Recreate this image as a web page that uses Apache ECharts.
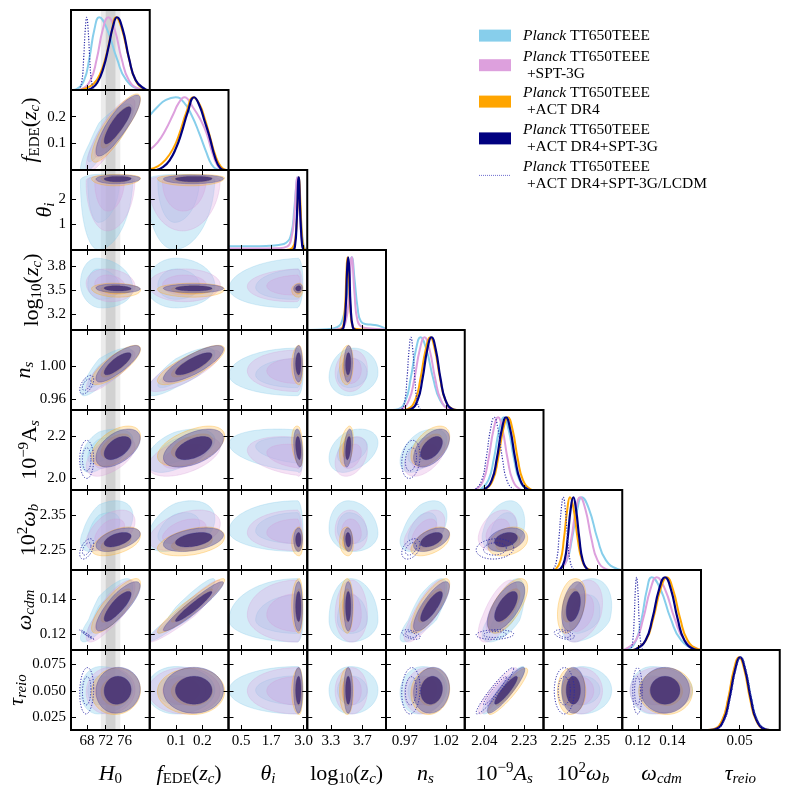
<!DOCTYPE html>
<html><head><meta charset="utf-8">
<script src="https://cdn.jsdelivr.net/npm/echarts@6/dist/echarts.min.js"></script>
<style>html,body{margin:0;padding:0;background:#fff}#c{width:789px;height:789px}</style>
</head><body><div id="c"></div>
<script>
// ---------------- DATA ----------------
const PARAM_NAMES = ['H0','fEDE','theta_i','log10_zc','n_s','As','omega_b','omega_cdm','tau_reio'];
const AXIS_MIN = [64.6, 0, 0, 3.0, 0.947, 1.946, 2.19, 0.111, 0.013];
const AXIS_MAX = [81.4, 0.30, 3.1416, 4.0, 1.043, 2.322, 2.425, 0.1565, 0.0885];
const COL_TICKS = [[68,72,76],[0.1,0.2],[0.5,1.7,3.0],[3.3,3.7],[0.97,1.02],[2.04,2.23],[2.25,2.35],[0.12,0.14],[0.05]];
const COL_DEC = [0,1,1,1,2,2,2,2,2];
const ROW_TICKS = [[],[0.1,0.2],[1,2],[3.2,3.5,3.8],[0.96,1.00],[2.0,2.2],[2.25,2.35],[0.12,0.14],[0.025,0.050,0.075]];
const ROW_DEC = [0,1,0,1,2,1,2,2,3];
const SH0ES = [73.04, 1.04];   // mean, sigma of the grey H0 band
const LEGEND_MAIN = ['Planck','Planck','Planck','Planck','Planck'];
const LEGEND_TAIL = ['TT650TEEE','TT650TEEE','TT650TEEE','TT650TEEE','TT650TEEE'];
const LEGEND_SUFFIX = ['', '+SPT-3G', '+ACT DR4', '+ACT DR4+SPT-3G', '+ACT DR4+SPT-3G/LCDM'];

// 1D marginal posteriors: [x, relative density]
const CURVE_P = [
 [[65.0,0],[65.8,0.011],[67.4,0.135],[68.5,0.43],[69.6,0.835],[70.6,1],[72.3,0.835],[74.4,0.43],[76.4,0.135],[79.3,0.011],[80.5,0]],
 [[0,0.75],[0.03,0.87],[0.06,0.96],[0.099,1],[0.13,0.93],[0.16,0.75],[0.189,0.5],[0.215,0.25],[0.235,0.08],[0.255,0.01],[0.27,0]],
 [[0,0.05],[0.5,0.05],[1.0,0.05],[1.5,0.055],[2.0,0.07],[2.3,0.1],[2.5,0.22],[2.62,0.55],[2.72,0.95],[2.76,1],[2.84,0.7],[2.93,0.25],[3.0,0.06],[3.08,0.01],[3.14,0]],
 [[3.0,0],[3.25,0.01],[3.38,0.04],[3.45,0.15],[3.5,0.45],[3.55,0.95],[3.565,1],[3.6,0.7],[3.64,0.3],[3.68,0.12],[3.75,0.08],[3.85,0.07],[3.93,0.05],[3.99,0.02]],
 [[0.955,0],[0.962,0.011],[0.971,0.135],[0.977,0.43],[0.9836,0.835],[0.989,1],[0.9962,0.835],[1.0046,0.43],[1.013,0.135],[1.025,0.011],[1.03,0]],
 [[2.01,0],[2.022,0.011],[2.059,0.135],[2.085,0.43],[2.111,0.835],[2.133,1],[2.155,0.835],[2.181,0.43],[2.207,0.135],[2.244,0.011],[2.26,0]],
 [[2.23,0],[2.238,0.011],[2.26,0.135],[2.275,0.43],[2.291,0.835],[2.304,1],[2.326,0.835],[2.351,0.43],[2.376,0.135],[2.412,0.011],[2.425,0]],
 [[0.112,0],[0.1145,0.011],[0.119,0.135],[0.1222,0.43],[0.1253,0.835],[0.128,1],[0.1331,0.835],[0.139,0.43],[0.145,0.135],[0.1535,0.011],[0.1565,0]],
 [[0.02,0],[0.0259,0.011],[0.0341,0.135],[0.0398,0.43],[0.0456,0.835],[0.0505,1],[0.0554,0.835],[0.0612,0.43],[0.0669,0.135],[0.0751,0.011],[0.08,0]]
];
const CURVE_PS = [
 [[66.0,0],[66.85,0.011],[68.75,0.135],[70.1,0.43],[71.4,0.835],[72.55,1],[73.9,0.835],[75.4,0.43],[76.95,0.135],[79.15,0.011],[80,0]],
 [[0,0.28],[0.03,0.38],[0.06,0.55],[0.09,0.77],[0.11,0.92],[0.132,1],[0.165,0.86],[0.195,0.68],[0.217,0.5],[0.24,0.22],[0.26,0.05],[0.278,0]],
 [[0,0.02],[1.0,0.02],[2.0,0.025],[2.35,0.05],[2.5,0.15],[2.62,0.45],[2.7,0.88],[2.74,1],[2.8,0.8],[2.87,0.35],[2.94,0.08],[3.0,0.01],[3.1,0]],
 [[3.3,0],[3.42,0.02],[3.49,0.12],[3.53,0.5],[3.565,1],[3.6,0.5],[3.64,0.12],[3.7,0.04],[3.8,0.02],[3.95,0.01],[4.0,0]],
 [[0.96,0],[0.9655,0.011],[0.975,0.135],[0.9816,0.43],[0.9883,0.835],[0.994,1],[1.0,0.835],[1.007,0.43],[1.014,0.135],[1.024,0.011],[1.03,0]],
 [[1.985,0],[2.0,0.011],[2.035,0.135],[2.0595,0.43],[2.084,0.835],[2.105,1],[2.126,0.835],[2.1505,0.43],[2.175,0.135],[2.21,0.011],[2.225,0]],
 [[2.23,0],[2.239,0.011],[2.259,0.135],[2.273,0.43],[2.287,0.835],[2.299,1],[2.315,0.835],[2.333,0.43],[2.351,0.135],[2.377,0.011],[2.39,0]],
 [[0.111,0],[0.1129,0.011],[0.1189,0.135],[0.1231,0.43],[0.1273,0.835],[0.1309,1],[0.1357,0.835],[0.1413,0.43],[0.1469,0.135],[0.1549,0.011],[0.1565,0]],
 [[0.0195,0],[0.0254,0.011],[0.0336,0.135],[0.0393,0.43],[0.0451,0.835],[0.05,1],[0.0549,0.835],[0.0607,0.43],[0.0664,0.135],[0.0746,0.011],[0.0795,0]]
];
const CURVE_PA = [
 [[66.5,0],[68,0.03],[69.5,0.09],[70.8,0.22],[72.0,0.45],[73.2,0.78],[74.2,1],[75.4,0.85],[76.9,0.45],[78.4,0.13],[80.3,0.01],[81,0]],
 [[0,0.01],[0.03,0.05],[0.06,0.14],[0.09,0.3],[0.113,0.5],[0.14,0.8],[0.166,1],[0.19,0.9],[0.21,0.7],[0.23,0.45],[0.25,0.2],[0.27,0.05],[0.29,0]],
 [[0,0],[2.3,0],[2.55,0.03],[2.68,0.2],[2.75,0.6],[2.81,1],[2.87,0.65],[2.93,0.2],[3.0,0.03],[3.08,0]],
 [[3.35,0],[3.44,0.02],[3.475,0.25],[3.495,0.7],[3.51,1],[3.53,0.7],[3.55,0.25],[3.58,0.04],[3.65,0.01],[3.8,0]],
 [[0.968,0],[0.9734,0.011],[0.9826,0.135],[0.989,0.43],[0.9955,0.835],[1.001,1],[1.0065,0.835],[1.013,0.43],[1.0194,0.135],[1.0286,0.011],[1.034,0]],
 [[2.03,0],[2.044,0.011],[2.08,0.135],[2.105,0.43],[2.13,0.835],[2.152,1],[2.174,0.835],[2.199,0.43],[2.224,0.135],[2.26,0.011],[2.275,0]],
 [[2.22,0],[2.227,0.011],[2.241,0.135],[2.251,0.43],[2.261,0.835],[2.269,1],[2.28,0.835],[2.292,0.43],[2.305,0.135],[2.323,0.011],[2.335,0]],
 [[0.117,0],[0.1187,0.011],[0.1247,0.135],[0.1289,0.43],[0.1331,0.835],[0.1367,1],[0.1403,0.835],[0.1445,0.43],[0.1487,0.135],[0.1547,0.011],[0.1565,0.003]],
 [[0.019,0],[0.0252,0.011],[0.0333,0.135],[0.039,0.43],[0.0446,0.835],[0.0495,1],[0.0544,0.835],[0.06,0.43],[0.0657,0.135],[0.0738,0.011],[0.079,0]]
];
const CURVE_PAS = [
 [[68,0],[68.9,0.02],[70.2,0.1],[71.5,0.3],[72.7,0.62],[73.5,0.86],[74.4,1],[75.6,0.84],[77.0,0.43],[78.4,0.135],[80.4,0.011],[81,0]],
 [[0.025,0],[0.05,0.04],[0.075,0.13],[0.1,0.3],[0.12,0.5],[0.145,0.8],[0.169,1],[0.19,0.88],[0.21,0.66],[0.226,0.48],[0.25,0.16],[0.268,0.03],[0.285,0]],
 [[0,0],[2.55,0],[2.65,0.05],[2.72,0.4],[2.8,1],[2.87,0.45],[2.94,0.06],[3.0,0]],
 [[3.42,0],[3.46,0.03],[3.49,0.35],[3.505,0.8],[3.52,1],[3.535,0.8],[3.55,0.35],[3.58,0.03],[3.62,0]],
 [[0.97,0],[0.977,0.011],[0.9855,0.135],[0.9915,0.43],[0.9974,0.835],[1.0025,1],[1.0076,0.835],[1.0135,0.43],[1.0195,0.135],[1.028,0.011],[1.033,0]],
 [[2.025,0],[2.041,0.011],[2.075,0.135],[2.099,0.43],[2.123,0.835],[2.143,1],[2.163,0.835],[2.187,0.43],[2.211,0.135],[2.245,0.011],[2.26,0]],
 [[2.232,0],[2.24,0.011],[2.253,0.135],[2.262,0.43],[2.271,0.835],[2.279,1],[2.287,0.835],[2.297,0.43],[2.307,0.135],[2.321,0.011],[2.33,0]],
 [[0.117,0],[0.1189,0.011],[0.1245,0.135],[0.1284,0.43],[0.1323,0.835],[0.1357,1],[0.1391,0.835],[0.143,0.43],[0.1469,0.135],[0.1525,0.011],[0.155,0]],
 [[0.021,0],[0.0268,0.011],[0.0347,0.135],[0.0402,0.43],[0.0458,0.835],[0.0505,1],[0.0552,0.835],[0.0608,0.43],[0.0663,0.135],[0.0742,0.011],[0.079,0]]
];
const CURVE_LCDM = [
 [[66.3,0],[66.45,0.011],[66.95,0.135],[67.3,0.43],[67.65,0.835],[67.95,1],[68.25,0.835],[68.6,0.43],[68.95,0.135],[69.45,0.011],[69.7,0]],
 null, null, null,
 [[0.963,0],[0.9663,0.011],[0.97,0.135],[0.9726,0.43],[0.9752,0.835],[0.9774,1],[0.9796,0.835],[0.9822,0.43],[0.9848,0.135],[0.9885,0.011],[0.991,0]],
 [[1.985,0],[1.997,0.011],[2.027,0.135],[2.048,0.43],[2.069,0.835],[2.087,1],[2.105,0.835],[2.126,0.43],[2.147,0.135],[2.177,0.011],[2.19,0]],
 [[2.212,0],[2.219,0.011],[2.229,0.135],[2.236,0.43],[2.243,0.835],[2.249,1],[2.255,0.835],[2.262,0.43],[2.269,0.135],[2.279,0.011],[2.286,0]],
 [[0.1152,0],[0.116,0.011],[0.1171,0.135],[0.1179,0.43],[0.1186,0.835],[0.1193,1],[0.12,0.835],[0.1207,0.43],[0.1215,0.135],[0.1226,0.011],[0.1235,0]],
 [[0.0215,0],[0.0275,0.011],[0.0354,0.135],[0.0409,0.43],[0.0465,0.835],[0.0512,1],[0.0559,0.835],[0.0615,0.43],[0.067,0.135],[0.0749,0.011],[0.08,0]]
];

// 2D posterior summaries: mode, lower / upper spread per parameter
const MODE_P   = [70.6, 0.099, 2.75, 3.55, 0.989, 2.133, 2.304, 0.128, 0.0505];
const SLO_P    = [1.6, 0.045, 1.1, 0.11, 0.010, 0.042, 0.024, 0.005, 0.009];
const SHI_P    = [2.9, 0.06, 0.09, 0.14, 0.013, 0.040, 0.036, 0.0095, 0.009];
const MODE_PS  = [72.55, 0.132, 2.74, 3.565, 0.994, 2.105, 2.299, 0.1309, 0.050];
const SLO_PS   = [1.9, 0.055, 0.8, 0.085, 0.010, 0.038, 0.021, 0.0062, 0.0088];
const SHI_PS   = [2.3, 0.055, 0.08, 0.08, 0.010, 0.037, 0.027, 0.008, 0.0088];
const MODE_PA  = [74.2, 0.166, 2.82, 3.51, 1.001, 2.152, 2.269, 0.1367, 0.0495];
const SLO_PA   = [2.1, 0.055, 0.12, 0.04, 0.0095, 0.038, 0.015, 0.0065, 0.0088];
const SHI_PA   = [2.1, 0.048, 0.06, 0.03, 0.0095, 0.038, 0.019, 0.006, 0.0088];
const MODE_PAS = [74.4, 0.169, 2.80, 3.52, 1.0025, 2.143, 2.279, 0.1357, 0.0505];
const SLO_PAS  = [1.8, 0.047, 0.08, 0.022, 0.0088, 0.036, 0.014, 0.0056, 0.0087];
const SHI_PAS  = [2.0, 0.045, 0.06, 0.022, 0.0088, 0.036, 0.014, 0.0057, 0.0087];
const MODE_LCDM = [67.95, null, null, null, 0.9774, 2.09, 2.252, 0.1198, 0.050];
const SIG_LCDM  = [0.6, null, null, null, 0.0045, 0.036, 0.012, 0.0011, 0.0088];
const CORR_EDE = [[0,1,0.85],[0,2,0.05],[0,3,-0.1],[0,4,0.8],[0,5,0.5],[0,6,0.5],[0,7,0.82],[0,8,0.05],
 [1,2,0.05],[1,3,0.0],[1,4,0.8],[1,5,0.5],[1,6,0.4],[1,7,0.95],[1,8,0.0],
 [2,3,0.1],[2,4,0.0],[2,5,-0.3],[2,6,0.0],[2,7,0.0],[2,8,0.0],
 [3,4,0.1],[3,5,0.35],[3,6,-0.1],[3,7,0.0],[3,8,0.0],
 [4,5,0.5],[4,6,0.5],[4,7,0.8],[4,8,0.1],
 [5,6,0.3],[5,7,0.65],[5,8,0.9],
 [6,7,0.35],[6,8,0.0],[7,8,0.0]];
const CORR_LCDM = [[0,4,0.55],[0,5,0.0],[0,6,0.5],[0,7,-0.97],[0,8,0.1],[4,5,0.2],[4,6,0.4],[4,7,-0.5],[4,8,0.1],
 [5,6,0.1],[5,7,0.1],[5,8,0.95],[6,7,-0.4],[6,8,0.0],[7,8,0.0]];

// ---------------- STYLE / LAYOUT ----------------
const N = 9, L0 = 71, T0 = 10, CW = 78.75, CH = 80;
const K68 = 1.515, K95 = 2.486;
const SERIF = "'Liberation Serif','DejaVu Serif',serif";
const ROW_GAP = [0, 28, 13, 26, 34, 28, 29, 33, 41];
const DS = [
 {mode:MODE_P, slo:SLO_P, shi:SHI_P, corr:CORR_EDE, curve:CURVE_P, color:'#87CEEB', w:2,
  f95:'rgba(135,206,235,0.36)', f68:'rgba(135,206,235,0.3)', edge:'rgba(120,195,230,0.5)'},
 {mode:MODE_PS, slo:SLO_PS, shi:SHI_PS, corr:CORR_EDE, curve:CURVE_PS, color:'#DDA0DD', w:2,
  f95:'rgba(221,160,221,0.3)', f68:'rgba(205,160,225,0.32)', edge:'rgba(210,150,210,0.5)'},
 {mode:MODE_PA, slo:SLO_PA, shi:SHI_PA, corr:CORR_EDE, curve:CURVE_PA, color:'#FFA500', w:2,
  f95:'rgba(255,175,40,0.26)', f68:'rgba(255,165,0,0.3)', edge:'rgba(255,165,0,0.6)'},
 {mode:MODE_PAS, slo:SLO_PAS, shi:SHI_PAS, corr:CORR_EDE, curve:CURVE_PAS, color:'#000080', w:2.2,
  f95:'rgba(115,108,170,0.58)', f68:'rgba(68,48,115,0.86)', edge:'rgba(40,40,140,0.55)'},
 {mode:MODE_LCDM, slo:SIG_LCDM, shi:SIG_LCDM, corr:CORR_LCDM, curve:CURVE_LCDM, color:'#2b2ba8', w:1.2, dotted:true}
];
const RICH = {
 n:{fontFamily:SERIF,fontSize:22,lineHeight:26,color:'#000'},
 i:{fontFamily:SERIF,fontSize:22,lineHeight:26,fontStyle:'italic',color:'#000'},
 s:{fontFamily:SERIF,fontSize:15,lineHeight:10,verticalAlign:'bottom',color:'#000'},
 si:{fontFamily:SERIF,fontSize:15,lineHeight:10,verticalAlign:'bottom',fontStyle:'italic',color:'#000'},
 p:{fontFamily:SERIF,fontSize:15,lineHeight:12,verticalAlign:'top',color:'#000'}
};
const COL_NAMES = ['{i|H}{s|0}','{i|f}{s|EDE}{n|(}{i|z}{si|c}{n|)}','{i|θ}{si|i}','{n|log}{s|10}{n|(}{i|z}{si|c}{n|)}',
 '{i|n}{si|s}','{n|10}{p|−9}{i|A}{si|s}','{n|10}{p|2}{i|ω}{si|b}','{i|ω}{si|cdm}','{i|τ}{si|reio}'];
const ROW_NAMES = ['','{i|f}{s|EDE}{n|(}{i|z}{si|c}{n|)}','{i|θ}{si|i}','{n|log}{s|10}{n|(}{i|z}{si|c}{n|)}',
 '{i|n}{si|s}','{n|10}{p|−9}{n|A}{si|s}','{n|10}{p|2}{i|ω}{si|b}','{i|ω}{si|cdm}','{i|τ}{si|reio}'];

function corrOf(list,a,b){ for(const c of list){ if((c[0]===a&&c[1]===b)||(c[0]===b&&c[1]===a)) return c[2]; } return 0; }
function nameStyle(){ return {rich:RICH,fontFamily:SERIF,fontSize:22,lineHeight:26,color:'#000'}; }
function makeX(g,p,pos,lab,name){
 return {gridIndex:g,type:'value',position:pos,min:AXIS_MIN[p],max:AXIS_MAX[p],z:6,
  axisLine:{show:false,onZero:false},splitLine:{show:false},
  axisTick:{show:true,inside:true,length:5,lineStyle:{color:'#000',width:1},customValues:COL_TICKS[p]},
  axisLabel:{show:lab,customValues:COL_TICKS[p],formatter:v=>Number(v).toFixed(COL_DEC[p]),margin:3,
   fontFamily:SERIF,fontSize:15,lineHeight:16,color:'#000'},
  name:name,nameLocation:'middle',nameGap:31,nameMoveOverlap:false,nameTextStyle:nameStyle()};
}
function makeY(g,p,pos,lab,name,gap){
 return {gridIndex:g,type:'value',position:pos,min:AXIS_MIN[p],max:AXIS_MAX[p],z:6,
  axisLine:{show:false,onZero:false},splitLine:{show:false},
  axisTick:{show:true,inside:true,length:5,lineStyle:{color:'#000',width:1},customValues:ROW_TICKS[p]},
  axisLabel:{show:lab,customValues:ROW_TICKS[p],formatter:v=>Number(v).toFixed(ROW_DEC[p]),margin:5,
   fontFamily:SERIF,fontSize:15,color:'#000'},
  name:name,nameLocation:'middle',nameGap:gap,nameRotate:90,nameMoveOverlap:false,nameTextStyle:nameStyle()};
}
function ellipse(d,i,j,rho,k,api){
 const pts=[], r2=Math.sqrt(Math.max(0,1-rho*rho));
 for(let n=0;n<96;n++){
  const t=2*Math.PI*n/96, a=Math.cos(t), b=rho*a+r2*Math.sin(t);
  const x=d.mode[j]+k*a*(a<0?d.slo[j]:d.shi[j]);
  const y=d.mode[i]+k*b*(b<0?d.slo[i]:d.shi[i]);
  pts.push(api.coord([x,y]));
 }
 return pts;
}
function clipRect(cs){ return {type:'rect',shape:{x:cs.x,y:cs.y,width:cs.width,height:cs.height}}; }

const grids=[], xAxes=[], yAxes=[], series=[];
for(let i=0;i<N;i++) for(let j=0;j<=i;j++){
 const g=grids.length, diag=(i===j), bottom=(i===N-1);
 grids.push({left:L0+j*CW,top:T0+i*CH,width:CW,height:CH,show:true,borderColor:'#000',borderWidth:2,
   backgroundColor:'transparent',z:5,outerBoundsMode:'none',containLabel:false});
 const xa=xAxes.length;
 xAxes.push(makeX(g,j,'bottom',bottom,bottom?COL_NAMES[j]:''));
 if(!diag) xAxes.push(makeX(g,j,'top',false,''));
 const ya=yAxes.length;
 if(diag) yAxes.push({gridIndex:g,type:'value',min:0,max:1.1,show:false});
 else { yAxes.push(makeY(g,i,'left',j===0,j===0?ROW_NAMES[i]:'',ROW_GAP[i])); yAxes.push(makeY(g,i,'right',false,'',0)); }
 if(j===0){
  const yv = diag ? 0.5 : (AXIS_MIN[i]+AXIS_MAX[i])/2;
  series.push({type:'custom',xAxisIndex:xa,yAxisIndex:ya,data:[[SH0ES[0],SH0ES[1]]],z:1,silent:true,animation:false,
   renderItem:(params,api)=>{
    const m=api.value(0), s=api.value(1), cs=params.coordSys;
    const a2=api.coord([m-2*s,yv])[0], b2=api.coord([m+2*s,yv])[0];
    const a1=api.coord([m-s,yv])[0], b1=api.coord([m+s,yv])[0];
    return {type:'group',children:[
     {type:'rect',shape:{x:a2,y:cs.y,width:b2-a2,height:cs.height},style:{fill:'rgba(0,0,0,0.08)'}},
     {type:'rect',shape:{x:a1,y:cs.y,width:b1-a1,height:cs.height},style:{fill:'rgba(0,0,0,0.11)'}}]};
   }});
 }
 if(diag){
  DS.forEach(d=>{
   const c=d.curve[i]; if(!c) return;
   series.push({type:'line',xAxisIndex:xa,yAxisIndex:ya,data:c,showSymbol:false,smooth:0.5,
    silent:true,animation:false,z:3,clip:true,
    lineStyle:{color:d.color,width:d.w,type:d.dotted?[1.2,1.6]:'solid',join:'round'}});
  });
 } else {
  const data=[];
  DS.forEach((d,k)=>{ if(d.mode[i]!=null&&d.mode[j]!=null) data.push([d.mode[j],d.mode[i],k]); });
  series.push({type:'custom',xAxisIndex:xa,yAxisIndex:ya,data:data,z:3,silent:true,animation:false,
   renderItem:((ii,jj)=>(params,api)=>{
    const d=DS[api.value(2)], cs=params.coordSys, rho=corrOf(d.corr,ii,jj);
    const outer=ellipse(d,ii,jj,rho,K95,api), inner=ellipse(d,ii,jj,rho,K68,api);
    let ch;
    if(d.dotted){
     ch=[{type:'polygon',shape:{points:outer},style:{fill:null,stroke:d.color,lineWidth:1,lineDash:[1.2,1.6]}},
         {type:'polygon',shape:{points:inner},style:{fill:null,stroke:d.color,lineWidth:1,lineDash:[1.2,1.6]}}];
    } else {
     ch=[{type:'polygon',shape:{points:outer},style:{fill:d.f95,stroke:d.edge,lineWidth:0.5}},
         {type:'polygon',shape:{points:inner},style:{fill:d.f68,stroke:d.edge,lineWidth:0.5}}];
    }
    return {type:'group',clipPath:clipRect(cs),children:ch};
   })(i,j)});
 }
}

// legend (drawn as graphic text with real text)
const LEG_Y=[35.6,65.2,101.6,138.4,175.4];
const graphic=[];
DS.forEach((d,k)=>{
 const cy=LEG_Y[k];
 if(d.dotted) graphic.push({type:'line',shape:{x1:479,y1:cy,x2:511,y2:cy},style:{stroke:'#6f6fd0',lineWidth:1,lineDash:[1,1]}});
 else graphic.push({type:'rect',shape:{x:479,y:cy-6,width:32,height:12},style:{fill:d.color}});
 let txt='{it|'+LEGEND_MAIN[k]+'}{rm| '+LEGEND_TAIL[k]+'}';
 if(LEGEND_SUFFIX[k]) txt+='\n{rm| '+LEGEND_SUFFIX[k]+'}';
 graphic.push({type:'text',x:523,y:cy,style:{text:txt,align:'left',verticalAlign:'middle',
  fontFamily:SERIF,fontSize:15.5,lineHeight:17.3,fill:'#000',
  rich:{it:{fontFamily:SERIF,fontSize:15.5,fontStyle:'italic',lineHeight:17.3,fill:'#000'},
        rm:{fontFamily:SERIF,fontSize:15.5,lineHeight:17.3,fill:'#000'}}}});
});

const chart=echarts.init(document.getElementById('c'),null,{renderer:'canvas'});
chart.setOption({animation:false,backgroundColor:'#fff',grid:grids,xAxis:xAxes,yAxis:yAxes,series:series,graphic:graphic});
</script></body></html>
